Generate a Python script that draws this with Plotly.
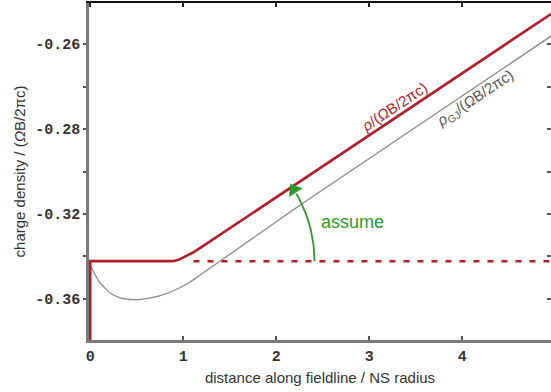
import numpy as np
import plotly.graph_objects as go

# ---- data ----
rho_x = [0, 0, 0.85, 0.90, 0.95, 1.00, 1.05, 1.10, 1.15, 1.20, 5.0]
rho_y = [-0.335, -0.3111, -0.3111, -0.31105, -0.3108, -0.3103, -0.30975, -0.30912, -0.30846, -0.30775, -0.25228]

gj_x = [0, 0.054, 0.108, 0.215, 0.323, 0.430, 0.538, 0.645, 0.753, 0.860, 0.968,
        1.075, 1.183, 1.290, 1.398, 1.505, 1.613, 1.828, 2.043, 2.258, 5.0]
gj_y = [-0.31200, -0.31435, -0.31624, -0.31859, -0.31976, -0.32012, -0.32012, -0.31976,
        -0.31918, -0.31835, -0.31729, -0.31600, -0.31435, -0.31271, -0.31106, -0.30941,
        -0.30776, -0.30447, -0.30118, -0.29788, -0.25749]

assumed_x = [1.11, 5.0]
assumed_y = [-0.3111, -0.3111]

x_tickvals = [0, 1, 2, 3, 4]
x_ticktext = ["0", "1", "2", "3", "4"]
y_tickvals = [-0.33, -0.32, -0.31, -0.30, -0.29, -0.28, -0.27, -0.26, -0.25]
y_ticktext = ["", "-0.36", "", "-0.32", "", "-0.28", "", "-0.26", ""]

x_range = [-0.013, 4.955]
y_range = [-0.32965, -0.25035]

RED = "#b01e2a"
GRAY = "#8a8a8a"
GREEN = "#2e9a2e"

W, H = 551, 392
ML, MR, MT, MB = 89, 0, 3, 52
plot_w, plot_h = W - ML - MR, H - MT - MB
sx = plot_w / (x_range[1] - x_range[0])
sy = plot_h / (y_range[1] - y_range[0])

# green "assume" arc: centred on the bend, radius in px
arc_cx, arc_cy, arc_r_px = 0.96, -0.3111, 135
arc_end_deg = 30
th = np.radians(np.linspace(0, arc_end_deg, 40))
arc_x = arc_cx + arc_r_px * np.cos(th) / sx
arc_y = arc_cy + arc_r_px * np.sin(th) / sy
tip_th = np.radians(arc_end_deg + 2)
tip_x = arc_cx + arc_r_px * np.cos(tip_th) / sx
tip_y = arc_cy + arc_r_px * np.sin(tip_th) / sy

fig = go.Figure()
fig.add_trace(go.Scatter(x=gj_x, y=gj_y, mode="lines", line=dict(color=GRAY, width=1.3, shape="spline", smoothing=0.5),
                         hoverinfo="skip", showlegend=False))
fig.add_trace(go.Scatter(x=assumed_x, y=assumed_y, mode="lines", line=dict(color=RED, width=2.5, dash="6px,8px"),
                         hoverinfo="skip", showlegend=False))
fig.add_trace(go.Scatter(x=rho_x, y=rho_y, mode="lines", line=dict(color=RED, width=2.6),
                         hoverinfo="skip", showlegend=False))
fig.add_trace(go.Scatter(x=arc_x, y=arc_y, mode="lines", line=dict(color=GREEN, width=1.8),
                         hoverinfo="skip", showlegend=False))
fig.add_trace(go.Scatter(x=[tip_x], y=[tip_y], mode="markers",
                         marker=dict(symbol="triangle-up", size=14, color=GREEN, angle=-(arc_end_deg + 2)),
                         hoverinfo="skip", showlegend=False))

fig.add_annotation(x=2.82, y=-0.3019, text="assume", showarrow=False,
                   font=dict(family="Liberation Sans, Arial", size=18, color=GREEN))
fig.add_annotation(x=3.27, y=-0.2746, text="<i>ρ</i>/(<i>Ω</i>B/2πc)", showarrow=False, textangle=-33.7,
                   font=dict(family="Liberation Sans, Arial", size=15, color=RED))
fig.add_annotation(x=4.14, y=-0.2729, text="<i>ρ</i><sub>GJ</sub>/(<i>Ω</i>B/2πc)", showarrow=False, textangle=-33.7,
                   font=dict(family="Liberation Sans, Arial", size=15, color="#555555"))

tickfont = dict(family="Liberation Mono, Courier New, monospace", size=15, color="#333333", weight="bold")
fig.update_layout(
    width=W, height=H, margin=dict(l=ML, r=MR, t=MT, b=MB),
    plot_bgcolor="white", paper_bgcolor="white",
    xaxis=dict(range=x_range, tickvals=x_tickvals, ticktext=x_ticktext, ticks="inside", ticklen=4,
               tickcolor="#555555", tickwidth=1.5, showline=True, linecolor="#7a7a7a", linewidth=2.5,
               showgrid=False, zeroline=False, tickfont=tickfont, layer="below traces",
               title=dict(text="distance along fieldline / NS radius", standoff=8,
                          font=dict(family="Liberation Sans, Arial", size=15, color="#333333"))),
    xaxis2=dict(range=x_range, overlaying="x", side="top", tickvals=x_tickvals, ticks="inside", ticklen=4,
                tickcolor="#222222", tickwidth=1.5, showticklabels=False, showline=True, linecolor="#111111",
                linewidth=2, showgrid=False, zeroline=False),
    yaxis=dict(range=y_range, tickvals=y_tickvals, ticktext=y_ticktext, ticks="outside", ticklen=3,
               tickcolor="#555555", tickwidth=1.5, showline=True, linecolor="#7a7a7a", linewidth=2.5,
               showgrid=False, zeroline=False, tickfont=tickfont, layer="below traces",
               title=dict(text="charge density / (<i>Ω</i>B/2πc)", standoff=6,
                          font=dict(family="Liberation Sans, Arial", size=15, color="#333333"))),
    yaxis2=dict(range=y_range, overlaying="y", side="right", tickvals=y_tickvals, ticks="inside", ticklen=4,
                tickcolor="#555555", tickwidth=1.5, showticklabels=False, showline=False,
                showgrid=False, zeroline=False),
)
fig.add_trace(go.Scatter(x=[None], y=[None], xaxis="x2", yaxis="y2", showlegend=False, hoverinfo="skip"))

fig.write_html("out.html")
